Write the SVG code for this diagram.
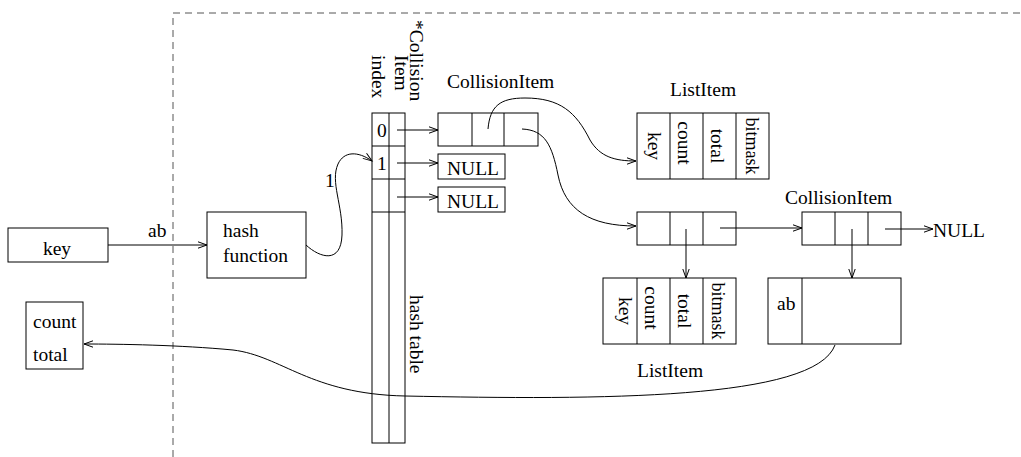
<svg xmlns="http://www.w3.org/2000/svg" width="1021" height="457" viewBox="0 0 1021 457">
<style>
text{font-family:"Liberation Serif","Times New Roman",serif;font-size:19.5px;fill:#000}
.b{fill:none;stroke:#000;stroke-width:1}
.c{fill:none;stroke:#000;stroke-width:1}
.a{marker-end:url(#ah)}
.sm{font-size:18px}
</style>
<defs>
<marker id="ah" markerUnits="userSpaceOnUse" markerWidth="12" markerHeight="10" viewBox="-10 -5 12 10" refX="0" refY="0" orient="auto">
<path d="M-9,-3.2 L0,0 L-9,3.2" fill="none" stroke="#000" stroke-width="1"/>
</marker>
</defs>
<path d="M173 457 L173 13 L1021 13" fill="none" stroke="#555" stroke-width="1" stroke-dasharray="7 5"/>

<g id="key">
<rect class="b" x="8" y="228" width="100" height="34"/>
<text x="57" y="255" text-anchor="middle">key</text>
</g>
<g id="hash-function">
<rect class="b" x="207" y="212" width="99" height="66"/>
<text x="223" y="237">hash</text>
<text x="223" y="262">function</text>
</g>
<g id="result">
<rect class="b" x="26" y="302" width="57" height="67"/>
<text x="33" y="328">count</text>
<text x="33" y="361">total</text>
</g>
<g id="hash-table">
<rect class="b" x="372" y="113" width="33" height="330"/>
<path class="b" d="M389 113 V443 M372 146 H405 M372 179 H405 M372 212 H405"/>
<text x="377" y="137">0</text>
<text x="377" y="170">1</text>
<text transform="translate(372,55) rotate(90)">index</text>
<text transform="translate(395,55) rotate(90)">Item</text>
<text transform="translate(410,20) rotate(90)">*Collision</text>
<text transform="translate(410,295) rotate(90)">hash table</text>
</g>
<g id="collision-item-1">
<text x="447" y="88">CollisionItem</text>
<rect class="b" x="438" y="113" width="100" height="33"/>
<path class="b" d="M472 113 V146 M504 113 V146"/>
</g>
<g id="null-1">
<rect class="b" x="438" y="154" width="67" height="25"/>
<text x="447" y="175">NULL</text>
</g>
<g id="null-2">
<rect class="b" x="438" y="187" width="67" height="25"/>
<text x="447" y="208">NULL</text>
</g>
<g id="list-item-1">
<text x="670" y="96">ListItem</text>
<rect class="b" x="637" y="113" width="132" height="66"/>
<path class="b" d="M670 113 V179 M703 113 V179 M736 113 V179"/>
<text transform="translate(648,146) rotate(90)" text-anchor="middle">key</text>
<text transform="translate(678,143) rotate(90)" text-anchor="middle">count</text>
<text transform="translate(711,146) rotate(90)" text-anchor="middle">total</text>
<text class="sm" transform="translate(746,146) rotate(90)" text-anchor="middle">bitmask</text>
</g>
<g id="collision-item-2">
<rect class="b" x="637" y="212" width="99" height="33"/>
<path class="b" d="M670 212 V245 M703 212 V245"/>
</g>
<g id="list-item-2">
<rect class="b" x="603" y="278" width="133" height="66"/>
<path class="b" d="M637 278 V344 M670 278 V344 M703 278 V344"/>
<text transform="translate(619,311) rotate(90)" text-anchor="middle">key</text>
<text transform="translate(645,308) rotate(90)" text-anchor="middle">count</text>
<text transform="translate(678,311) rotate(90)" text-anchor="middle">total</text>
<text class="sm" transform="translate(712,311) rotate(90)" text-anchor="middle">bitmask</text>
<text x="637" y="377">ListItem</text>
</g>
<g id="collision-item-3">
<text x="785" y="204">CollisionItem</text>
<rect class="b" x="802" y="212" width="99" height="33"/>
<path class="b" d="M835 212 V245 M868 212 V245"/>
</g>
<g id="null-3">
<text x="933" y="237">NULL</text>
</g>
<g id="key-item">
<rect class="b" x="768" y="278" width="133" height="66"/>
<path class="b" d="M802 278 V344"/>
<text x="777" y="310">ab</text>
</g>

<g id="connectors">
<path class="c a" d="M108 245 H207"/>
<text x="148" y="237">ab</text>
<path class="c a" d="M306 245 C320 258 341 264 342 235 C343 205 330 182 338 164 C344 151 358 151 372 161"/>
<text x="325" y="187">1</text>
<path class="c a" d="M397 130 H438"/>
<path class="c a" d="M397 163 H438"/>
<path class="c a" d="M397 197 H438"/>
<path class="c a" d="M488 129 C490 106 500 98 525 98 C560 98 576 112 590 140 C600 157 615 161 636 161"/>
<path class="c a" d="M522 129 C545 130 552 145 558 175 C565 210 590 226 636 226"/>
<path class="c a" d="M686 229 V278"/>
<path class="c a" d="M720 228 H802"/>
<path class="c a" d="M885 229 H933"/>
<path class="c a" d="M852 229 V278"/>
<path class="c a" d="M835 345 C815 400 600 400 405 396 C310 394 282 356 233 350 C180 345 120 344 84 344"/>
</g>
</svg>
